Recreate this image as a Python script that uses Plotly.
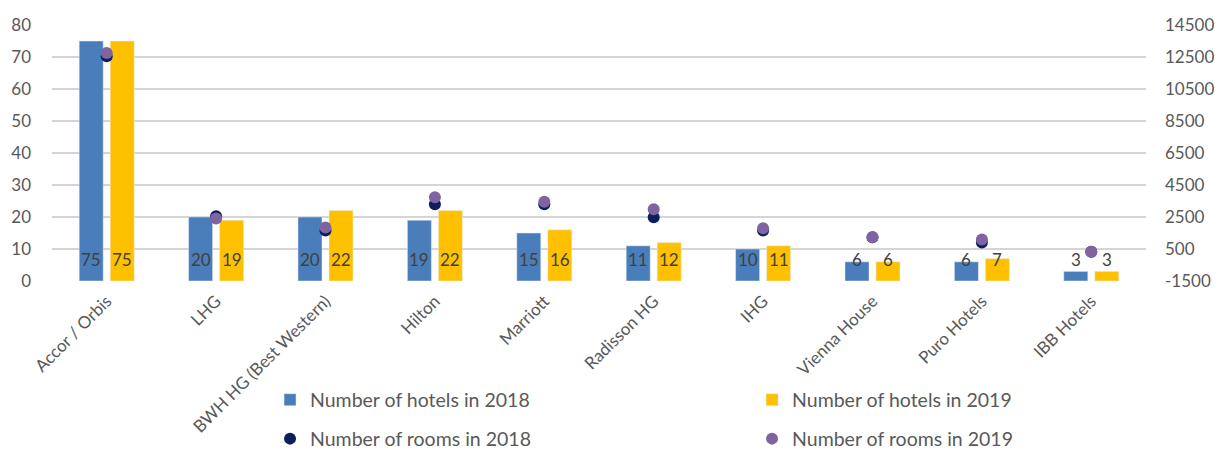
import plotly.graph_objects as go

categories = ["Accor / Orbis", "LHG", "BWH HG (Best Western)", "Hilton", "Marriott",
              "Radisson HG", "IHG", "Vienna House", "Puro Hotels", "IBB Hotels"]
hotels_2018 = [75, 20, 20, 19, 15, 11, 10, 6, 6, 3]
hotels_2019 = [75, 19, 22, 22, 16, 12, 11, 6, 7, 3]
rooms_2018 = [12550, 2550, 1650, 3300, 3300, 2480, 1650, 1230, 900, 330]
rooms_2019 = [12750, 2400, 1850, 3730, 3460, 2980, 1800, 1230, 1100, 330]
left_ticks = [0, 10, 20, 30, 40, 50, 60, 70, 80]
right_ticks = [-1500, 500, 2500, 4500, 6500, 8500, 10500, 12500, 14500]

FONT = "Lato"
TXT = "#595959"

fig = go.Figure()
fig.add_trace(go.Bar(x=categories, y=hotels_2018, name="Number of hotels in 2018",
                     marker_color="#4a7ebb", legend="legend2"))
fig.add_trace(go.Bar(x=categories, y=hotels_2019, name="Number of hotels in 2019",
                     marker_color="#ffc000", legend="legend3"))
fig.add_trace(go.Scatter(x=categories, y=rooms_2018, name="Number of rooms in 2018",
                         mode="markers", marker=dict(color="#0b1f5c", size=12),
                         yaxis="y2", legend="legend4"))
fig.add_trace(go.Scatter(x=categories, y=rooms_2019, name="Number of rooms in 2019",
                         mode="markers", marker=dict(color="#8064a2", size=12),
                         yaxis="y2", legend="legend5"))

annotations = []
for c, a, b in zip(categories, hotels_2018, hotels_2019):
    for v, sh in ((a, -15.5), (b, 15.5)):
        annotations.append(dict(x=c, y=6.8, xref="x", yref="y", text=str(v),
                                showarrow=False, xshift=sh, yanchor="middle",
                                font=dict(family=FONT, size=17, color="#404040")))

def leg(x, y):
    return dict(orientation="h", x=x, xanchor="left", y=y, yanchor="middle",
                font=dict(size=19.5, color=TXT), bgcolor="rgba(0,0,0,0)")

fig.update_layout(
    width=1221, height=450,
    margin=dict(l=52, r=75, t=25, b=169, autoexpand=False),
    paper_bgcolor="white", plot_bgcolor="white",
    font=dict(family=FONT, color=TXT),
    barmode="group", bargap=0.433, bargroupgap=0.226,
    annotations=annotations,
    xaxis=dict(range=[-0.5, len(categories) - 0.5], tickangle=-45,
               tickfont=dict(size=17, color=TXT), showgrid=False,
               ticks="", showline=False, automargin=False, ticklabelstandoff=6),
    yaxis=dict(range=[0, 80], tickvals=left_ticks, showgrid=True, gridcolor="#d5d5d5",
               gridwidth=1.5, zeroline=False, tickfont=dict(size=17, color=TXT),
               ticklabelstandoff=20, automargin=False),
    yaxis2=dict(range=[-1500, 14500], tickvals=right_ticks,
                ticktext=[str(v) for v in right_ticks], overlaying="y", side="right",
                showgrid=False, zeroline=False, tickfont=dict(size=17, color=TXT),
                ticklabelstandoff=18, automargin=False),
    legend2=leg(0.1993, -0.4648),
    legend3=leg(0.6399, -0.4648),
    legend4=leg(0.1993, -0.617),
    legend5=leg(0.6399, -0.617),
)

fig.write_html("out.html", config={"displayModeBar": False},
               post_script="document.body.style.margin='0px';document.body.style.overflow='hidden';")
